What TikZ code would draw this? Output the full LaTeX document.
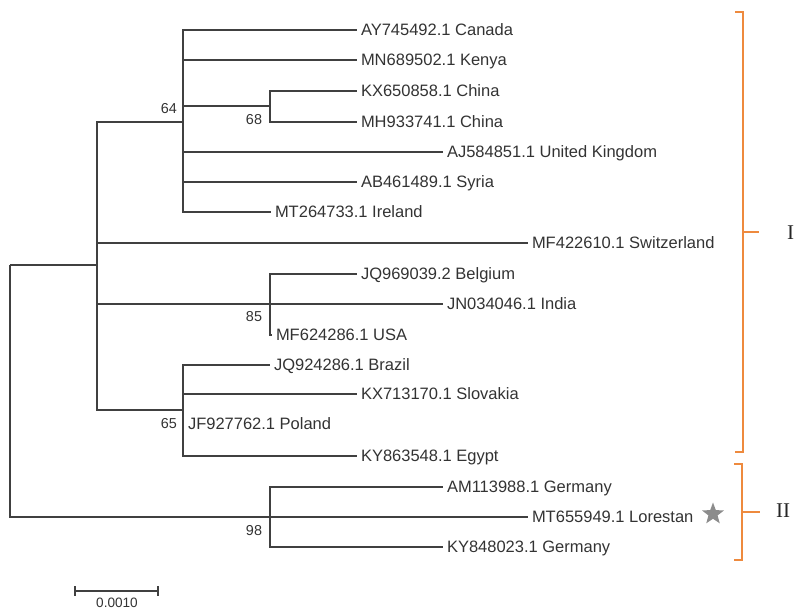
\documentclass[tikz,border=0pt]{standalone}
\usepackage{fontspec}
\setmainfont{Liberation Sans}
\newfontfamily\romanfont{Liberation Serif}
\usetikzlibrary{shapes.geometric}
\definecolor{txt}{HTML}{333333}
\definecolor{branch}{HTML}{404040}
\definecolor{brk}{HTML}{EE8A3E}
\definecolor{stargray}{HTML}{8C8C8C}
\tikzset{
  leaf/.style={anchor=west, inner sep=0pt, outer xsep=4pt, text height=11.8pt, text depth=0pt,
    font=\fontsize{16.5}{18}\selectfont, text=txt},
  boot/.style={inner sep=0pt, font=\fontsize{14.4}{16}\selectfont, text=txt},
  edge/.style={draw=branch, line width=1.3pt},
  bracket/.style={draw=brk, line width=1.5pt},
  roman/.style={inner sep=0pt, font=\romanfont\fontsize{21}{24}\selectfont, text=black!85},
}
\begin{document}
\begin{tikzpicture}[x=1pt,y=-1pt]
\useasboundingbox (0,0) rectangle (796,609);
% internal nodes
\coordinate (R) at (10,265);
\coordinate (A) at (97,265);
\coordinate (B) at (183,122);
\coordinate (C) at (270,106);
\coordinate (D) at (270,304);
\coordinate (E) at (183,410);
\coordinate (F) at (270,517);
% leaves
\node[leaf] (canada)   at (357,30)  {AY745492.1 Canada};
\node[leaf] (kenya)    at (357,60)  {MN689502.1 Kenya};
\node[leaf] (china1)   at (357,91)  {KX650858.1 China};
\node[leaf] (china2)   at (357,122) {MH933741.1 China};
\node[leaf] (uk)       at (443,152) {AJ584851.1 United Kingdom};
\node[leaf] (syria)    at (357,182) {AB461489.1 Syria};
\node[leaf] (ireland)  at (271,212) {MT264733.1 Ireland};
\node[leaf] (switz)    at (528,243) {MF422610.1 Switzerland};
\node[leaf] (belgium)  at (357,274) {JQ969039.2 Belgium};
\node[leaf] (india)    at (443,304) {JN034046.1 India};
\node[leaf] (usa)      at (272,335) {MF624286.1 USA};
\node[leaf] (brazil)   at (270,365) {JQ924286.1 Brazil};
\node[leaf] (slovakia) at (357,394) {KX713170.1 Slovakia};
\node[leaf] (poland)   at (184,424) {JF927762.1 Poland};
\node[leaf] (egypt)    at (357,456) {KY863548.1 Egypt};
\node[leaf] (germany1) at (443,487) {AM113988.1 Germany};
\node[leaf] (lorestan) at (528,517) {MT655949.1 Lorestan};
\node[leaf] (germany2) at (443,547) {KY848023.1 Germany};
% star
\node[star, star points=5, star point ratio=2.4, fill=stargray, inner sep=0pt, minimum size=23pt] (star) at (713,514) {};
% branches
\draw[edge] (R) -- (A);
\draw[edge] (R) |- (F);
\draw[edge] (A) |- (B);
\draw[edge] (A) |- (switz.west);
\draw[edge] (A) |- (D);
\draw[edge] (A) |- (E);
\draw[edge] (B) |- (canada.west);
\draw[edge] (B) |- (kenya.west);
\draw[edge] (B) |- (C);
\draw[edge] (B) |- (uk.west);
\draw[edge] (B) |- (syria.west);
\draw[edge] (B) |- (ireland.west);
\draw[edge] (C) |- (china1.west);
\draw[edge] (C) |- (china2.west);
\draw[edge] (D) -- (india.west);
\draw[edge] (D) |- (belgium.west);
\draw[edge] (D) |- (usa.west);
\draw[edge] (E) |- (brazil.west);
\draw[edge] (E) |- (slovakia.west);
\draw[edge] (E) |- (poland.west);
\draw[edge] (E) |- (egypt.west);
\draw[edge] (F) |- (germany1.west);
\draw[edge] (F) -- (lorestan.west);
\draw[edge] (F) |- (germany2.west);
% bootstrap values
\node[boot] (b64) at (169,109) {64};
\node[boot] (b68) at (254,120) {68};
\node[boot] (b85) at (254,317) {85};
\node[boot] (b65) at (169,424) {65};
\node[boot] (b98) at (254,531) {98};
% scale bar
\coordinate (s1) at (75,591);
\coordinate (s2) at (158,591);
\draw[edge, line width=1.4pt] (s1) -- (s2);
\draw[edge, line width=1.4pt] ([yshift=-5pt]s1) -- ([yshift=5pt]s1);
\draw[edge, line width=1.4pt] ([yshift=-5pt]s2) -- ([yshift=5pt]s2);
\node[boot, font=\fontsize{13.6}{15}\selectfont] (scale) at (117,603) {0.0010};
% brackets
\coordinate (g1t) at (743,12);
\coordinate (g1b) at (743,452);
\coordinate (g1m) at (743,232);
\draw[bracket] ([xshift=-8pt]g1t) -- (g1t) -- (g1b) -- ([xshift=-8pt]g1b);
\draw[bracket] (g1m) -- ++(16,0);
\node[roman, anchor=west] (gI) at (787,233) {I};
\coordinate (g2t) at (742,464);
\coordinate (g2b) at (742,560);
\coordinate (g2m) at (742,512);
\draw[bracket] ([xshift=-8pt]g2t) -- (g2t) -- (g2b) -- ([xshift=-8pt]g2b);
\draw[bracket] (g2m) -- ++(18,0);
\node[roman] (gII) at (783,511) {II};
\end{tikzpicture}
\end{document}
